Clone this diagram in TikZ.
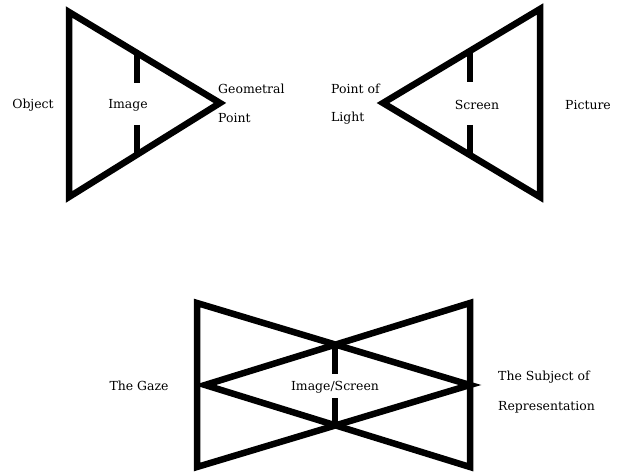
\documentclass[tikz,border=0pt]{standalone}
\usepackage{fontspec}
\setmainfont{DejaVu Serif}
\usetikzlibrary{positioning}

\begin{document}
\begin{tikzpicture}[x=1bp, y=-1bp,
        cone/.style={line width=6.5bp, line join=miter},
        bar/.style={line width=6bp},
        lbl/.style={font=\fontsize{12.5}{15}\selectfont, inner sep=0pt}]
      \useasboundingbox (0,0) rectangle (621,472);
      % upper left: object side
      \coordinate (otop) at (69,12); \coordinate (obot) at (69,197); \coordinate (gpt) at (220,103);
      \draw[cone] (otop) -- (gpt) -- (obot) -- cycle;
      \draw[bar] (137,52) -- (137,83) (137,125) -- (137,154);
      \node[lbl] (obj) at (33,105) {Object};
      \node[lbl] (img) at (128,105) {Image};
      \node[lbl, anchor=west] (geo) at (218,89) {Geometral};
      \node[lbl, anchor=west] (geop) at (218,118) {Point};
      % upper right: picture side
      \coordinate (ptop) at (540,9); \coordinate (pbot) at (540,197); \coordinate (lpt) at (383,103);
      \draw[cone] (ptop) -- (lpt) -- (pbot) -- cycle;
      \draw[bar] (470,50) -- (470,82) (470,125) -- (470,156);
      \node[lbl, anchor=west] (pol) at (331,89) {Point of};
      \node[lbl, anchor=west] (light) at (331,118) {Light};
      \node[lbl] (scr) at (477,105) {Screen};
      \node[lbl] (pic) at (588,105) {Picture};
      % lower: both cones overlapped
      \coordinate (gtop) at (197,303); \coordinate (gbot) at (197,467); \coordinate (gapex) at (470,385);
      \coordinate (stop) at (470,303); \coordinate (sbot) at (470,467); \coordinate (sapex) at (205,385);
      \draw[cone] (gtop) -- (gapex) -- (gbot) -- cycle;
      \draw[cone] (stop) -- (sapex) -- (sbot) -- cycle;
      \draw[bar] (335,344) -- (335,374) (335,398) -- (335,428);
      \node[lbl] (imsc) at (335,387) {Image/Screen};
      \node[lbl] (gaze) at (139,386) {The Gaze};
      \node[lbl, anchor=west] (subj) at (498,377) {The Subject of};
      \node[lbl, anchor=west] (repr) at (498,407) {Representation};
    \end{tikzpicture}
\end{document}
